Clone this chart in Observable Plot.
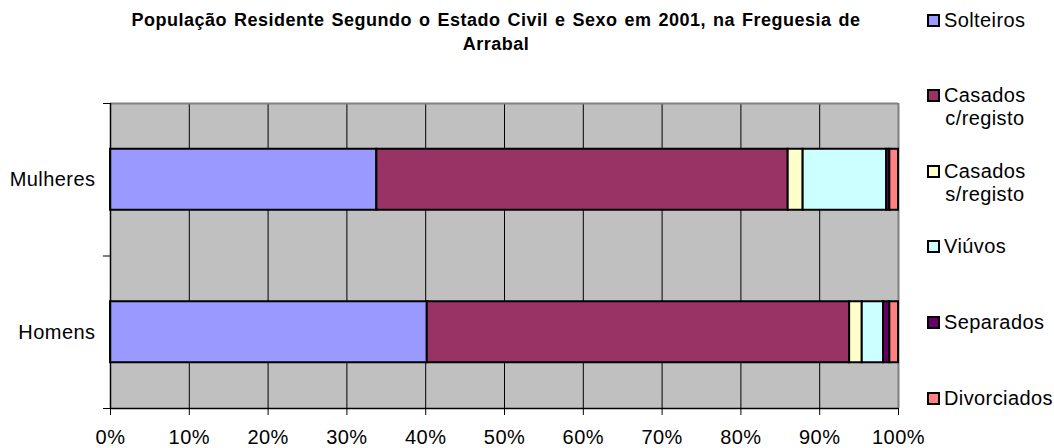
<!DOCTYPE html>
<html>
<head>
<meta charset="utf-8">
<script src="https://cdn.jsdelivr.net/npm/d3@7"></script>
<script src="https://cdn.jsdelivr.net/npm/@observablehq/plot@0.6"></script>
<style>
  html, body { margin: 0; padding: 0; background: #fff; }
  #wrap { position: relative; width: 1054px; height: 448px; overflow: hidden; font-family: "Liberation Sans", Arial, sans-serif; color: #000; }
  #title { position: absolute; left: 0; top: 8px; width: 992px; text-align: center; font-weight: bold; font-size: 18px; letter-spacing: 0.5px; word-spacing: 1.5px; line-height: 24px; }
  #chart { position: absolute; left: 0; top: 0; width: 926px; height: 448px; }
  #chart svg text { letter-spacing: 0.45px; }
  .leg { position: absolute; left: 927px; font-size: 20px; letter-spacing: 0.4px; line-height: 23px; display: flex; align-items: flex-start; }
  .sw { width: 9px; height: 9px; border: 2px solid #000; margin-top: 5px; margin-right: 4px; flex: none; }
  .lt { display: inline-block; text-align: center; white-space: pre; }
</style>
</head>
<body>
<div id="wrap">
  <div id="chart"></div>
  <div id="title"></div>
  <div id="legend"></div>
</div>
<script>
const titleLines = ["População Residente Segundo o Estado Civil e Sexo em 2001, na Freguesia de", "Arrabal"];
const categories = ["Mulheres", "Homens"];
const series = ["Solteiros", "Casados c/registo", "Casados s/registo", "Viúvos", "Separados", "Divorciados"];
const legendLabels = ["Solteiros", "Casados\nc/registo", "Casados\ns/registo", "Viúvos", "Separados", "Divorciados"];
const mulheres = [33.8, 52.2, 1.9, 10.6, 0.4, 1.1];
const homens = [40.2, 53.6, 1.6, 2.7, 0.8, 1.1];
const colors = ["#9999FF", "#993366", "#FFFFCC", "#CCFFFF", "#660066", "#FF8080"];
const xTicks = [0, 10, 20, 30, 40, 50, 60, 70, 80, 90, 100];
const legendTops = [9, 84, 160, 235, 311, 387];

document.getElementById("title").innerHTML = titleLines.join("<br>");

const values = [mulheres, homens];
const rows = [];
categories.forEach((cat, ci) => {
  let acc = 0;
  series.forEach((s, si) => {
    const v = values[ci][si];
    rows.push({cat, ci, series: s, x1: acc, x2: acc + v});
    acc += v;
  });
});

const chart = Plot.plot({
  width: 926,
  height: 448,
  marginLeft: 110,
  marginRight: 28,
  marginTop: 103,
  marginBottom: 40,
  style: {fontFamily: "'Liberation Sans', Arial, sans-serif", fontSize: "20px", color: "#000", background: "transparent"},
  x: {domain: [0, 100], axis: null},
  y: {domain: [0, 2], reverse: true, axis: null},
  color: {domain: series, range: colors},
  marks: [
    Plot.frame({fill: "#C0C0C0", stroke: null}),
    Plot.ruleX(xTicks.filter(d => d > 0 && d < 100), {stroke: "#000", strokeWidth: 1}),
    Plot.ruleY([0], {stroke: "#808080", strokeWidth: 2}),
    Plot.ruleX([100], {stroke: "#808080", strokeWidth: 2}),
    Plot.rectX(rows, {x1: "x1", x2: "x2", y1: d => d.ci + 0.3, y2: d => d.ci + 0.7, fill: "series", stroke: "#000", strokeWidth: 2}),
    Plot.ruleX([0], {stroke: "#000", strokeWidth: 1.5}),
    Plot.ruleY([2], {stroke: "#000", strokeWidth: 1.5}),
    Plot.axisY({ticks: [0, 1, 2], tickFormat: () => "", tickSize: 7, stroke: "#000"}),
    Plot.axisY({ticks: categories.map((c, i) => i + 0.5), tickFormat: d => categories[Math.floor(d)], tickSize: 0, tickPadding: 15, fill: "#000"}),
    Plot.axisX({ticks: xTicks, tickFormat: d => d + "%", tickSize: 7, tickPadding: 14, fill: "#000", stroke: "#000"})
  ]
});
document.getElementById("chart").appendChild(chart);

const legend = document.getElementById("legend");
legendLabels.forEach((lab, i) => {
  const item = document.createElement("div");
  item.className = "leg";
  item.style.top = legendTops[i] + "px";
  const sw = document.createElement("div");
  sw.className = "sw";
  sw.style.background = colors[i];
  const t = document.createElement("span");
  t.className = "lt";
  t.textContent = lab;
  item.appendChild(sw);
  item.appendChild(t);
  legend.appendChild(item);
});
</script>
</body>
</html>
